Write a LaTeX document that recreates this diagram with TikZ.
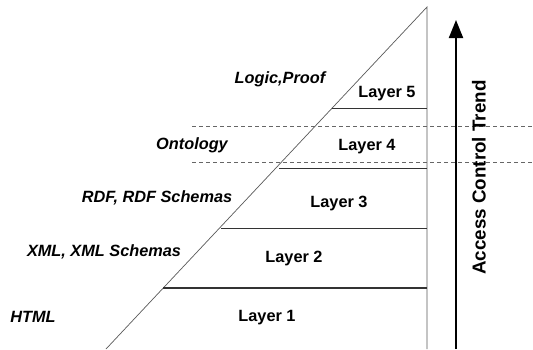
\documentclass[tikz,border=0pt]{standalone}
\usepackage{fontspec}
\setmainfont{Liberation Sans}
\usetikzlibrary{arrows.meta}
\begin{document}
\begin{tikzpicture}[x=1pt,y=-1pt,
  lbl/.style={font=\fontsize{16.3}{18}\selectfont\bfseries, inner sep=0pt},
  ilbl/.style={font=\fontsize{16.3}{18}\selectfont\bfseries\itshape, inner sep=0pt},
  vlbl/.style={font=\fontsize{18.8}{20}\selectfont\bfseries, inner sep=0pt, rotate=90},
  thin/.style={draw=black!65, line width=0.7pt},
  layerline/.style={draw=black!80, line width=1.4pt},
  dashline/.style={draw=black!60, line width=0.6pt, dash pattern=on 4pt off 3pt}]
\useasboundingbox (0,0) rectangle (533,349);
\coordinate (apex) at (427,7);
\coordinate (base) at (106,349);
\coordinate (rbase) at (427,349);
% triangle
\draw[thin] (base) -- (apex) -- (rbase);
% layer lines
\draw[layerline] (332,108.7) coordinate (l5) -- (427,108.7);
\draw[layerline] (279,168.5) coordinate (l4) -- (427,168.5);
\draw[layerline] (221,228.5) coordinate (l3) -- (427,228.5);
\draw[layerline] (163,288) coordinate (l2) -- (427,288);
% dashed lines
\draw[dashline] (192,126.5) coordinate (d1) -- (533,126.5);
\draw[dashline] (192,162.5) coordinate (d2) -- (533,162.5);
% arrow
\coordinate (abot) at (456,349);
\coordinate (atop) at (456,20);
\draw[line width=2pt, -{Triangle[length=18pt,width=14pt]}] (abot) -- (atop);
\node[vlbl] (trend) at (479,177.5) {Access Control Trend};
% labels
\node[lbl] (L5) at (387,94) {Layer 5};
\node[lbl] (L4) at (367,147) {Layer 4};
\node[lbl] (L3) at (339,203) {Layer 3};
\node[lbl] (L2) at (294,258) {Layer 2};
\node[lbl] (L1) at (267,318) {Layer 1};
\node[ilbl] (logic) at (280,79) {Logic,Proof};
\node[ilbl] (onto) at (192,145) {Ontology};
\node[ilbl] (rdf) at (157,198) {RDF, RDF Schemas};
\node[ilbl] (xml) at (104,252) {XML, XML Schemas};
\node[ilbl] (html) at (33,317) {HTML};
\end{tikzpicture}
\end{document}
